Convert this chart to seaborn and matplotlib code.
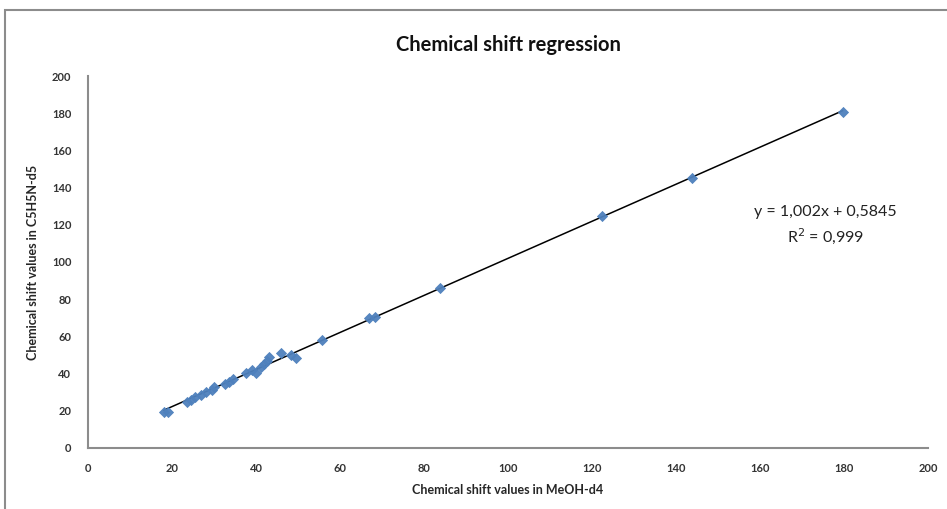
import matplotlib
matplotlib.use("Agg")
import matplotlib.pyplot as plt
import matplotlib.patches as mpatches
import seaborn as sns
import numpy as np
import pandas as pd

# Data
meoh_d4 = [18.0, 19.0, 23.5, 24.5, 25.5, 27.0, 28.2, 29.5, 30.0, 32.5, 33.5, 34.5,
           37.7, 39.0, 40.0, 41.3, 42.0, 42.5, 43.0, 46.0, 48.4, 49.6, 55.6,
           67.0, 68.3, 83.8, 122.4, 143.9, 179.7]
pyr_d5 = [19.4, 19.2, 25.0, 26.0, 27.5, 28.5, 30.0, 31.0, 33.0, 34.5, 35.5, 37.0,
          40.3, 42.0, 40.3, 43.5, 45.0, 47.0, 49.0, 51.0, 50.0, 48.4, 58.0,
          70.0, 70.5, 86.0, 124.7, 145.0, 180.6]
tick_values = [0, 20, 40, 60, 80, 100, 120, 140, 160, 180, 200]
title_text = "Chemical shift regression"
x_label = "Chemical shift values in MeOH-d4"
y_label = "Chemical shift values in C5H5N-d5"
eq_lines = ["y = 1,002x + 0,5845", "R$^2$ = 0,999"]

df = pd.DataFrame({"x": meoh_d4, "y": pyr_d5})

sns.set_style("white")
plt.rcParams["font.family"] = ["Lato", "DejaVu Sans"]

fig = plt.figure(figsize=(9.47, 5.09), dpi=100)
ax = fig.add_axes([88 / 947, 1 - 448 / 509, (928 - 88) / 947, (448 - 76) / 509])

sns.regplot(data=df, x="x", y="y", ax=ax, ci=None, truncate=True, marker="D",
            scatter_kws=dict(s=26, color="#4F81BD", edgecolor="#4F81BD",
                             linewidths=0.6, alpha=0.95, zorder=3),
            line_kws=dict(color="black", lw=1.1, zorder=2))

ax.set_xlim(0, 200)
ax.set_ylim(0, 200)
ax.set_xticks(tick_values)
ax.set_yticks(tick_values)
ax.set_xticklabels([str(t) for t in tick_values], fontsize=8, fontweight="bold", color="#333333")
ax.set_yticklabels([str(t) for t in tick_values], fontsize=8, fontweight="bold", color="#333333")
ax.tick_params(axis="y", length=0, pad=12)
ax.tick_params(axis="x", length=0, pad=11)

for s in ["top", "right"]:
    ax.spines[s].set_visible(False)
for s in ["left", "bottom"]:
    ax.spines[s].set_color("#8c8c8c")
    ax.spines[s].set_linewidth(1.5)

ax.set_xlabel(x_label, fontsize=9, fontweight="bold", labelpad=7)
ax.set_ylabel(y_label, fontsize=9, fontweight="bold", labelpad=9)
ax.set_title(title_text, fontsize=14.5, fontweight="bold", pad=18, color="#111111")

ax.text(175.6, 127, eq_lines[0], ha="center", va="center", fontsize=11.5, color="#222222")
ax.text(175.6, 114, eq_lines[1], ha="center", va="center", fontsize=11.5, color="#222222")

border = mpatches.Rectangle((5 / 947, -0.01), 1.0, 1 - 10 / 509 + 0.01,
                            transform=fig.transFigure, fill=False,
                            edgecolor="#8c8c8c", lw=1.5)
fig.patches.append(border)

fig.savefig("out.png", dpi=100)
